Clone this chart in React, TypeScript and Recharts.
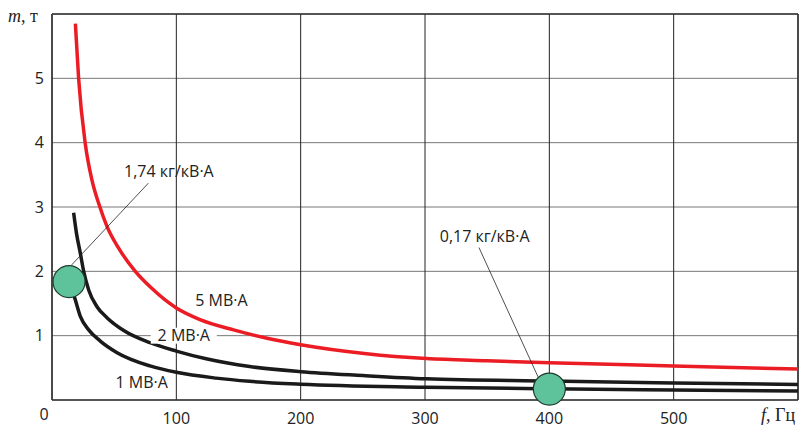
import { LineChart, Line, XAxis, YAxis, CartesianGrid, ReferenceLine, ReferenceDot } from "recharts";

// 5 MV·A curve (red)
const f5 = [18.8, 21.4, 26.8, 32, 38, 44.2, 53.6, 67, 80, 100, 119, 146, 173, 200, 253, 301, 350, 400, 500, 600];
const m5 = [5.85, 5.0, 3.98, 3.43, 3.03, 2.7, 2.36, 2.0, 1.74, 1.43, 1.25, 1.09, 0.96, 0.86, 0.72, 0.645, 0.61, 0.58, 0.53, 0.48];

// 2 MV·A curve
const f2 = [17.4, 19.7, 22.8, 25.5, 29.5, 36.2, 44.2, 57.7, 78.8, 100, 124, 159, 200, 250, 301, 400, 500, 600];
const m2 = [2.91, 2.59, 2.28, 2.0, 1.71, 1.45, 1.28, 1.08, 0.89, 0.76, 0.64, 0.52, 0.44, 0.38, 0.33, 0.295, 0.265, 0.24];

// 1 MV·A curve
const f1 = [14, 18.7, 22.8, 29.5, 38.6, 52, 78.8, 100, 132, 159, 200, 300, 400, 500, 600];
const m1 = [1.84, 1.56, 1.3, 1.09, 0.92, 0.74, 0.53, 0.43, 0.34, 0.29, 0.245, 0.2, 0.175, 0.155, 0.14];

const xTicks = [0, 100, 200, 300, 400, 500];
const yTicks = [1, 2, 3, 4, 5];

// specific mass points
const points = [
  { f: 13.7, m: 1.84 },
  { f: 400, m: 0.17 },
];

const labels = [
  { f: 94, m: 3.555, text: "1,74 кг/кВ·А", bg: false },
  { f: 348, m: 2.54, text: "0,17 кг/кВ·А", bg: false },
  { f: 136.3, m: 1.545, text: "5 МВ·А", bg: false },
  { f: 106, m: 1.0, text: "2 МВ·А", bg: true },
  { f: 72.1, m: 0.27, text: "1 МВ·А", bg: false },
];

const leaders = [
  [{ x: 77.5, y: 3.37 }, { x: 15.8, y: 2.1 }],
  [{ x: 343.4, y: 2.37 }, { x: 390.9, y: 0.36 }],
];

const toData = (fs: number[], ms: number[]) => fs.map((f, i) => ({ f, m: ms[i] }));

const font = "'Open Sans', sans-serif";

const XTick = (props: any) => {
  const { x, payload } = props;
  const zero = payload.value === 0;
  return (
    <text x={zero ? x - 8 : x} y={zero ? 420 : 424} textAnchor="middle" fontSize={16} fontFamily={font} fill="#222">
      {payload.value}
    </text>
  );
};

const YTick = (props: any) => {
  const { y, payload } = props;
  return (
    <text x={44} y={y + 5.7} textAnchor="end" fontSize={16} fontFamily={font} fill="#222">
      {payload.value}
    </text>
  );
};

const makeLabel = (text: string, bg: boolean) => (props: any) => {
  const vb = props.viewBox || {};
  const cx = vb.x + (vb.width || 0) / 2;
  const cy = vb.y + (vb.height || 0) / 2;
  return (
    <g>
      {bg && <rect x={cx - 33} y={cy - 8} width={66} height={16} fill="#fff" />}
      <text x={cx} y={cy + 5.7} textAnchor="middle" fontSize={16} fontFamily={font} fill="#222">
        {text}
      </text>
    </g>
  );
};

export default function App() {
  return (
    <div style={{ position: "absolute", left: 0, top: 0, width: 801, height: 429, background: "#fff" }}>
      <LineChart width={801} height={429} margin={{ top: 14, right: 3, bottom: 0, left: 0 }}>
        <CartesianGrid horizontal={true} vertical={false} stroke="#777" strokeWidth={1} />
        <CartesianGrid horizontal={false} vertical={true} stroke="#222" strokeWidth={1} />
        <XAxis
          type="number"
          dataKey="f"
          domain={[0, 600]}
          ticks={xTicks}
          allowDataOverflow
          height={29}
          tickLine={false}
          axisLine={{ stroke: "#333", strokeWidth: 1.5 }}
          tick={<XTick />}
          interval={0}
        />
        <YAxis
          type="number"
          domain={[0, 6]}
          ticks={yTicks}
          allowDataOverflow
          width={52}
          tickLine={false}
          axisLine={{ stroke: "#333", strokeWidth: 1.5 }}
          tick={<YTick />}
          interval={0}
        />
        <ReferenceLine y={6} stroke="#333" strokeWidth={1.5} />
        <ReferenceLine x={600} stroke="#333" strokeWidth={1.5} />
        {labels.filter((l) => l.bg).map((l) => (
          <ReferenceDot key={l.text} x={l.f} y={l.m} r={1} fill="none" stroke="none" label={{ content: makeLabel(l.text, l.bg) }} />
        ))}
        <Line data={toData(f5, m5)} dataKey="m" type="monotone" stroke="#ec1c24" strokeWidth={3.5} dot={false} isAnimationActive={false} />
        <Line data={toData(f2, m2)} dataKey="m" type="monotone" stroke="#1a1a1a" strokeWidth={3.5} dot={false} isAnimationActive={false} />
        <Line data={toData(f1, m1)} dataKey="m" type="monotone" stroke="#1a1a1a" strokeWidth={3.5} dot={false} isAnimationActive={false} />
        {leaders.map((seg, i) => (
          <ReferenceLine key={i} segment={seg} stroke="#222" strokeWidth={0.8} />
        ))}
        {points.map((p, i) => (
          <ReferenceDot key={i} x={p.f} y={p.m} r={16} fill="#5ec39a" stroke="#1e3a2e" strokeWidth={1.2} />
        ))}
        {labels.filter((l) => !l.bg).map((l) => (
          <ReferenceDot key={l.text} x={l.f} y={l.m} r={1} fill="none" stroke="none" label={{ content: makeLabel(l.text, l.bg) }} />
        ))}
      </LineChart>
      <div style={{ position: "absolute", left: 8, top: 6, fontFamily: "'Liberation Serif', serif", fontSize: 18, color: "#222", whiteSpace: "nowrap" }}>
        <i>m</i>, т
      </div>
      <div style={{ position: "absolute", left: 761, top: 405, fontFamily: "'Liberation Serif', serif", fontSize: 18, color: "#222", whiteSpace: "nowrap" }}>
        <i>f</i>, Гц
      </div>
    </div>
  );
}
